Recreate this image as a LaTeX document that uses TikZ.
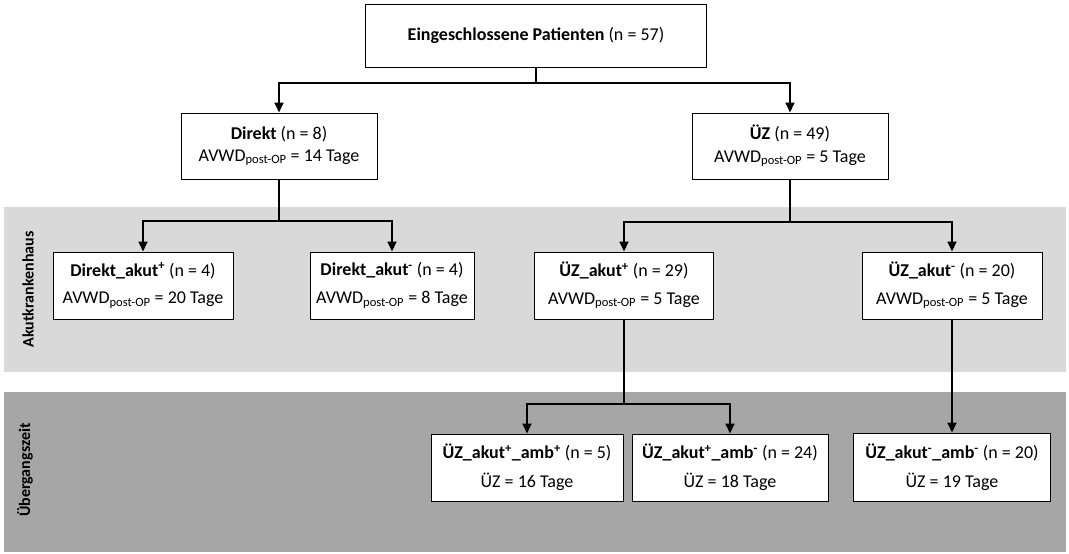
\documentclass[tikz,border=0pt]{standalone}
\usepackage{fontspec}
\setmainfont{Carlito}
\usetikzlibrary{arrows.meta}
\definecolor{bandlight}{HTML}{D9D9D9}
\definecolor{banddark}{HTML}{A6A6A6}
\begin{document}
\begin{tikzpicture}[x=1pt,y=-1pt,
  box/.style={draw=black, line width=1pt, fill=white, align=center, inner sep=0pt,
              font=\fontsize{18}{21.6}\selectfont},
  wide/.style={minimum width=#1},
  tall/.style={minimum height=#1},
  link/.style={line width=1.8pt},
  arr/.style={line width=1.8pt, -{Triangle[length=10pt,width=9pt]}},
  bandlabel/.style={rotate=90, font=\bfseries\fontsize{16}{19}\selectfont}]
\useasboundingbox (0,0) rectangle (1069,554);

% background bands
\fill[bandlight] (4,207) rectangle (1066,372);
\fill[banddark] (4,392) rectangle (1066,552);
\node[bandlabel] (lab1) at (28,289.5) {Akutkrankenhaus};
\node[bandlabel] (lab2) at (25,470) {Übergangszeit};

% boxes
\node[box, wide=341pt, tall=63pt] (top) at (536,35.5)
  {\textbf{Eingeschlossene Patienten} (n = 57)};

\node[box, wide=196pt, tall=66pt] (direkt) at (279,146)
  {\textbf{Direkt} (n = 8)\\[0.5pt] AVWD\textsubscript{post-OP} = 14 Tage};
\node[box, wide=196pt, tall=66pt] (uz) at (790,146)
  {\textbf{ÜZ} (n = 49)\\[0.5pt] AVWD\textsubscript{post-OP} = 5 Tage};

\node[box, wide=180pt, tall=67pt] (dap) at (143,285.5)
  {\textbf{Direkt\_akut\textsuperscript{+}} (n = 4)\\[6pt] AVWD\textsubscript{post-OP} = 20 Tage};
\node[box, wide=164pt, tall=67pt] (dam) at (392,285.5)
  {\textbf{Direkt\_akut\textsuperscript{-}} (n = 4)\\[6pt] AVWD\textsubscript{post-OP} = 8 Tage};
\node[box, wide=179pt, tall=67pt] (uap) at (624,285.5)
  {\textbf{ÜZ\_akut\textsuperscript{+}} (n = 29)\\[6pt] AVWD\textsubscript{post-OP} = 5 Tage};
\node[box, wide=180pt, tall=67pt] (uam) at (952,285.5)
  {\textbf{ÜZ\_akut\textsuperscript{-}} (n = 20)\\[6pt] AVWD\textsubscript{post-OP} = 5 Tage};

\node[box, wide=192pt, tall=67pt] (uapp) at (527,467.5)
  {\textbf{ÜZ\_akut\textsuperscript{+}\_amb\textsuperscript{+}} (n = 5)\\[7pt] ÜZ = 16 Tage};
\node[box, wide=196pt, tall=67pt] (uapm) at (730,467.5)
  {\textbf{ÜZ\_akut\textsuperscript{+}\_amb\textsuperscript{-}} (n = 24)\\[7pt] ÜZ = 18 Tage};
\node[box, wide=197pt, tall=68pt] (uamm) at (952,467)
  {\textbf{ÜZ\_akut\textsuperscript{-}\_amb\textsuperscript{-}} (n = 20)\\[7pt] ÜZ = 19 Tage};

% connectors
\coordinate (j0) at (top.south |- 0,83);
\draw[link] (top.south) -- (j0);
\draw[arr] (j0) -| (direkt.north);
\draw[arr] (j0) -| (uz.north);

\coordinate (j1) at (direkt.south |- 0,221);
\draw[link] (direkt.south) -- (j1);
\draw[arr] (j1) -| (dap.north);
\draw[arr] (j1) -| (dam.north);

\coordinate (j2) at (uz.south |- 0,222);
\draw[link] (uz.south) -- (j2);
\draw[arr] (j2) -| (uap.north);
\draw[arr] (j2) -| (uam.north);

\coordinate (j3) at (uap.south |- 0,404);
\draw[link] (uap.south) -- (j3);
\draw[arr] (j3) -| (uapp.north);
\draw[arr] (j3) -| (uapm.north);

\draw[arr] (uam.south) -- (uamm.north);
\end{tikzpicture}
\end{document}
